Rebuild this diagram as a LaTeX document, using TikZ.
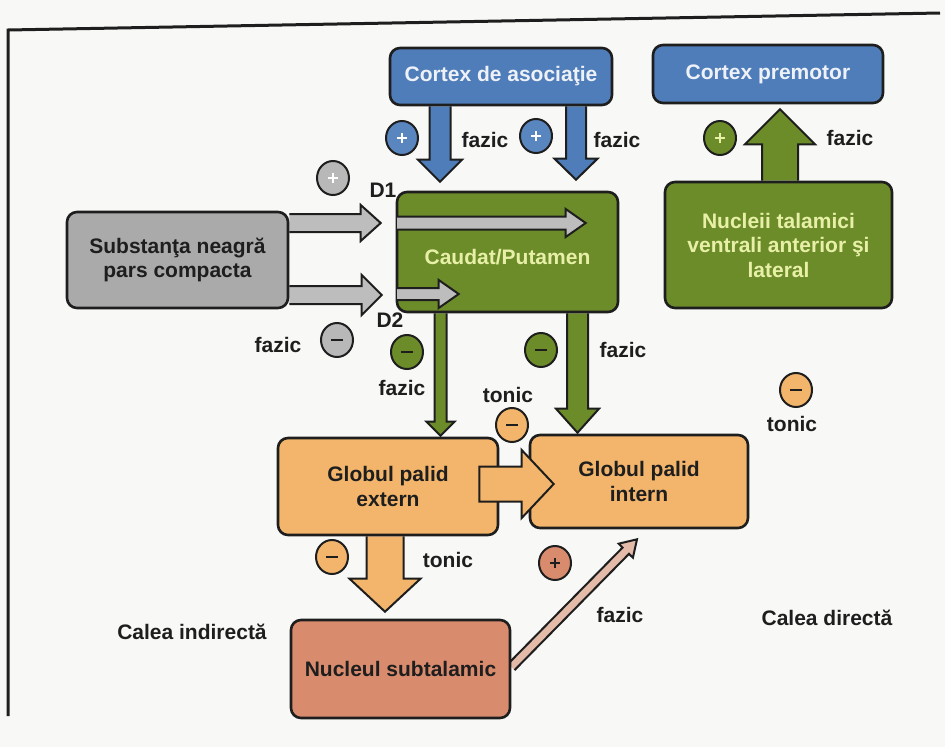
\documentclass[tikz,border=0pt]{standalone}
\usepackage{fontspec}
\setmainfont{Liberation Sans}
\usetikzlibrary{calc,shapes.geometric}
\pgfdeclarelayer{back}
\pgfdeclarelayer{under}
\pgfsetlayers{back,under,main}
\definecolor{bgcol}{HTML}{F8F8F6}
\definecolor{ink}{HTML}{1E1E1E}
\definecolor{bluebox}{HTML}{4F7DB9}
\definecolor{bluesig}{HTML}{5A86C0}
\definecolor{greenbox}{HTML}{6C8C2A}
\definecolor{graybox}{HTML}{AAAAAA}
\definecolor{graysig}{HTML}{B8B8B8}
\definecolor{orangebox}{HTML}{F2B56B}
\definecolor{salmonbox}{HTML}{D98B6E}
\definecolor{grayarrow}{HTML}{BDBDBD}
\definecolor{pinkarrow}{HTML}{E3BBA8}
\definecolor{lighttext}{HTML}{EEF2F8}
\definecolor{yellowtext}{HTML}{E8F0A8}

\tikzset{
  box/.style={draw=ink, line width=2.6pt, rounded corners=10pt, align=center,
    font=\bfseries\fontsize{21}{24.5}\selectfont, inner sep=0pt},
  lab/.style={font=\bfseries\fontsize{21}{24}\selectfont, text=ink, inner sep=0pt},
  arrowline/.style={draw=ink, line width=2pt, line join=miter},
  sig/.style={ellipse, draw=ink, line width=2pt, minimum width=32pt, minimum height=34pt, inner sep=0pt},
  framel/.style={draw=ink, line width=3pt}
}

\newcommand{\bapts}[5]{%
  \path ($(#2)!#5!(#1)$) coordinate (bah);
  \path ($(#1)!#3!90:(#2)$) coordinate (baa);
  \path ($(bah)!#3!90:(#2)$) coordinate (bab);
  \path ($(bah)!#4!90:(#2)$) coordinate (bac);
  \path ($(bah)!#4!-90:(#2)$) coordinate (bad);
  \path ($(bah)!#3!-90:(#2)$) coordinate (bae);
  \path ($(#1)!#3!-90:(#2)$) coordinate (baf);
}
% open base block arrow: fill, S, T, half shaft, half head, head length
\newcommand{\blockarrow}[6]{%
  \bapts{#2}{#3}{#4}{#5}{#6}%
  \fill[#1] (baa)--(bab)--(bac)--(#3)--(bad)--(bae)--(baf)--cycle;
  \draw[arrowline] (baa)--(bab)--(bac)--(#3)--(bad)--(bae)--(baf);
}
% closed block arrow
\newcommand{\blockarrowc}[6]{%
  \bapts{#2}{#3}{#4}{#5}{#6}%
  \filldraw[arrowline, fill=#1] (baa)--(bab)--(bac)--(#3)--(bad)--(bae)--(baf)--cycle;
}
\newcommand{\splus}[4]{%
  \node[sig, fill=#3] (#1) at (#2) {};
  \draw[#4, line width=1.8pt] ([xshift=-5pt]#1.center) -- ([xshift=5pt]#1.center)
    ([yshift=-5pt]#1.center) -- ([yshift=5pt]#1.center);
}
\newcommand{\sminus}[4]{%
  \node[sig, fill=#3] (#1) at (#2) {};
  \draw[#4, line width=2.6pt] ([xshift=-6pt]#1.center) -- ([xshift=6pt]#1.center);
}

\begin{document}
\begin{tikzpicture}[x=1pt,y=-1pt]
\useasboundingbox (0,0) rectangle (945,747);
\begin{pgfonlayer}{back}
  \fill[bgcol] (0,0) rectangle (945,747);
  \draw[framel] (8,716) -- (8,30) -- (940,13);
\end{pgfonlayer}

% boxes
\node[box, fill=bluebox, text=lighttext, minimum width=222pt, minimum height=57pt] (cda) at (501,76.5) {Cortex de asociaţie};
\node[box, fill=bluebox, text=lighttext, minimum width=230pt, minimum height=58pt] (cpm) at (768,74) {Cortex premotor};
\node[box, fill=greenbox, text=yellowtext, minimum width=227pt, minimum height=126pt] (nt) at (778.5,245) {Nucleii talamici\\ventrali anterior şi\\lateral};
\node[box, fill=graybox, text=ink, minimum width=221pt, minimum height=96pt] (sn) at (177.5,260) {Substanţa neagră\\pars compacta};
\node[box, fill=greenbox, minimum width=221pt, minimum height=120pt] (cp) at (507.5,252) {};
\node[lab, text=yellowtext] (cpt) at (507.5,257) {Caudat/Putamen};
\node[box, fill=orangebox, text=ink, minimum width=220pt, minimum height=97pt] (gpe) at (388,486.5) {Globul palid\\extern};
\node[box, fill=orangebox, text=ink, minimum width=218pt, minimum height=93pt] (gpi) at (639,481.5) {Globul palid\\intern};
\node[box, fill=salmonbox, text=ink, minimum width=219pt, minimum height=98pt] (nst) at (400.5,669) {Nucleul subtalamic};

% connector end points
\coordinate (a1s) at ([xshift=-61pt]cda.south);
\coordinate (a1t) at ([xshift=-67.5pt,yshift=9pt]cp.north);
\coordinate (a2s) at ([xshift=75pt]cda.south);
\coordinate (a2t) at ([xshift=68.5pt,yshift=11pt]cp.north);
\coordinate (a3s) at ([xshift=1.5pt]nt.north);
\coordinate (a3t) at ([xshift=12pt,yshift=-5pt]cpm.south);
\coordinate (g1s) at ([yshift=37pt]sn.east);
\coordinate (g1t) at ([xshift=-15pt,yshift=29pt]cp.west);
\coordinate (g2s) at ([yshift=-35pt]sn.east);
\coordinate (g2t) at ([xshift=-14pt,yshift=-43pt]cp.west);
\coordinate (g3s) at ([xshift=1.5pt,yshift=29pt]cp.west);
\coordinate (g3t) at ([xshift=190pt,yshift=29pt]cp.west);
\coordinate (g4s) at ([xshift=1.5pt,yshift=-42pt]cp.west);
\coordinate (g4t) at ([xshift=63pt,yshift=-42pt]cp.west);
\coordinate (d1s) at ([xshift=-67pt]cp.south);
\coordinate (d1t) at ([xshift=52.5pt,yshift=1pt]gpe.north);
\coordinate (d2s) at ([xshift=70pt]cp.south);
\coordinate (d2t) at ([xshift=-61.5pt,yshift=1pt]gpi.north);
\coordinate (o1s) at ([xshift=-20pt,yshift=2.5pt]gpe.east);
\coordinate (o1t) at ([xshift=25pt,yshift=-2.5pt]gpi.west);
\coordinate (o2s) at ([xshift=-3pt]gpe.south);
\coordinate (o2t) at ([xshift=-15.5pt,yshift=7pt]nst.north);
\coordinate (p1s) at ([yshift=2pt]nst.east);
\coordinate (p1t) at ([xshift=-2pt,yshift=-10pt]gpi.south);

% arrows under the boxes
\begin{pgfonlayer}{under}
  \blockarrow{bluebox}{a1s}{a1t}{10.5pt}{22pt}{22pt}
  \blockarrow{bluebox}{a2s}{a2t}{10pt}{21.5pt}{21pt}
  \blockarrow{greenbox}{a3s}{a3t}{18pt}{35pt}{35pt}
  \blockarrow{grayarrow}{g1s}{g1t}{9pt}{18pt}{20pt}
  \blockarrow{grayarrow}{g2s}{g2t}{9pt}{20pt}{20pt}
  \blockarrow{greenbox}{d1s}{d1t}{6pt}{14pt}{14pt}
  \blockarrow{greenbox}{d2s}{d2t}{10.5pt}{21.5pt}{24pt}
  \blockarrow{orangebox}{o2s}{o2t}{18.5pt}{35.5pt}{33pt}
  \blockarrow{pinkarrow}{p1s}{p1t}{4.5pt}{10pt}{16pt}
\end{pgfonlayer}

% arrows over the boxes
\blockarrow{grayarrow}{g3s}{g3t}{6.5pt}{14pt}{20pt}
\blockarrow{grayarrow}{g4s}{g4t}{6pt}{14pt}{20pt}
\blockarrowc{orangebox}{o1s}{o1t}{17.5pt}{34pt}{32pt}

% signs
\splus{s1}{402,138}{bluesig}{white}
\splus{s2}{536,136}{bluesig}{white}
\splus{s3}{720,138}{greenbox}{yellowtext}
\splus{s4}{333,178}{graysig}{white}
\sminus{s5}{337,340}{graysig}{ink}
\sminus{s6}{407,352}{greenbox}{ink}
\sminus{s7}{541,350}{greenbox}{ink}
\sminus{s8}{512,425}{orangebox}{ink}
\sminus{s9}{796,390}{orangebox}{ink}
\sminus{s10}{332,557}{orangebox}{ink}
\splus{s11}{555,563}{salmonbox}{ink}

% labels
\node[lab] (l1) at (485,140) {fazic};
\node[lab] (l2) at (617,140) {fazic};
\node[lab] (l3) at (850,138) {fazic};
\node[lab] (l4) at (383,190) {D1};
\node[lab] (l5) at (390,320) {D2};
\node[lab] (l6) at (278,345) {fazic};
\node[lab] (l7) at (402,388) {fazic};
\node[lab] (l8) at (623,350) {fazic};
\node[lab] (l9) at (508,395) {tonic};
\node[lab] (l10) at (792,424) {tonic};
\node[lab] (l11) at (448,560) {tonic};
\node[lab] (l12) at (620,615) {fazic};
\node[lab] (l13) at (192,632) {Calea indirectă};
\node[lab] (l14) at (827,618) {Calea directă};
\end{tikzpicture}
\end{document}
